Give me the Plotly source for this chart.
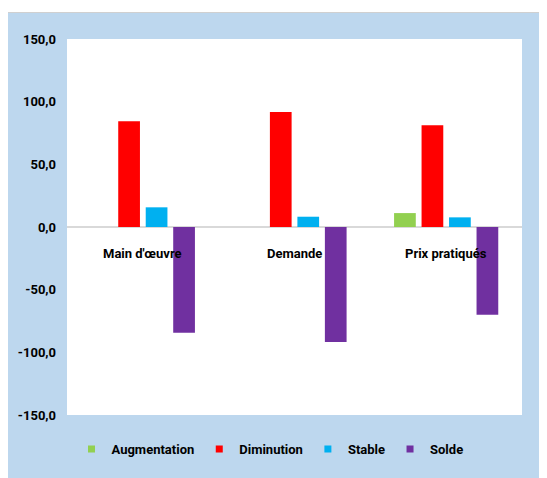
import plotly.graph_objects as go

categories = ["Main d'œuvre", "Demande", "Prix pratiqués"]
augmentation = [0.0, 0.0, 11.1]
diminution = [84.3, 91.8, 81.2]
stable = [15.7, 8.2, 7.7]
solde = [-84.3, -91.8, -70.1]
series_names = ["Augmentation", "Diminution", "Stable", "Solde"]
series_colors = ["#92d050", "#ff0000", "#00b0f0", "#7030a0"]
y_tick_vals = [150, 100, 50, 0, -50, -100, -150]
y_tick_text = ["150,0", "100,0", "50,0", "0,0", "-50,0", "-100,0", "-150,0"]

W, H = 547, 478
L, T = 59, 31
pw, ph = 455, 376
R = W - L - pw
B = H - T - ph


def px_x(p):
    return (p - L) / pw


def px_y(p):
    return (T + ph - p) / ph


FONT = "Roboto, Liberation Sans, sans-serif"

fig = go.Figure()
for name, vals, col in zip(series_names, [augmentation, diminution, stable, solde], series_colors):
    fig.add_trace(go.Bar(x=categories, y=vals, name=name, showlegend=False,
                         marker=dict(color=col, line=dict(width=0))))
# legend entries with small square keys
for name, col in zip(series_names, series_colors):
    fig.add_trace(go.Scatter(x=[None], y=[None], mode="markers", name=name,
                             marker=dict(symbol="square", size=7, color=col)))

for c in categories:
    fig.add_annotation(x=c, y=0, xref="x", yref="y", text=c, showarrow=False,
                       yanchor="middle", yshift=-26,
                       font=dict(family=FONT, size=13, color="#000000", weight="bold"))

shapes = [
    dict(type="rect", xref="paper", yref="paper", x0=px_x(0), x1=px_x(W), y0=px_y(4), y1=px_y(0),
         fillcolor="#ffffff", line=dict(width=0), layer="below"),
    dict(type="line", xref="paper", yref="paper", x0=px_x(0), x1=px_x(W), y0=px_y(4.5), y1=px_y(4.5),
         line=dict(color="#d0d0d0", width=1), layer="below"),
]

fig.update_layout(
    width=W, height=H,
    margin=dict(l=L, r=R, t=T, b=B, pad=0, autoexpand=False),
    paper_bgcolor="#bdd7ee",
    plot_bgcolor="#ffffff",
    barmode="group",
    bargap=0.275,
    bargroupgap=0.21,
    shapes=shapes,
    showlegend=True,
    legend=dict(orientation="h", x=px_x(262), xanchor="center", y=px_y(441), yanchor="middle",
                font=dict(family=FONT, size=13, color="#000000", weight="bold"),
                bgcolor="rgba(0,0,0,0)", itemwidth=30, traceorder="normal"),
    xaxis=dict(range=[-0.5, 2.5], showticklabels=False, showgrid=False, zeroline=False,
               showline=False, ticks="", automargin=False),
    yaxis=dict(range=[-150, 150], tickvals=y_tick_vals, ticktext=y_tick_text, showgrid=False,
               zeroline=True, zerolinecolor="#d9d9d9", zerolinewidth=2, showline=False, ticks="",
               ticklabelstandoff=10, automargin=False,
               tickfont=dict(family=FONT, size=13, color="#000000", weight="bold")),
)

fig.write_html("out.html")
